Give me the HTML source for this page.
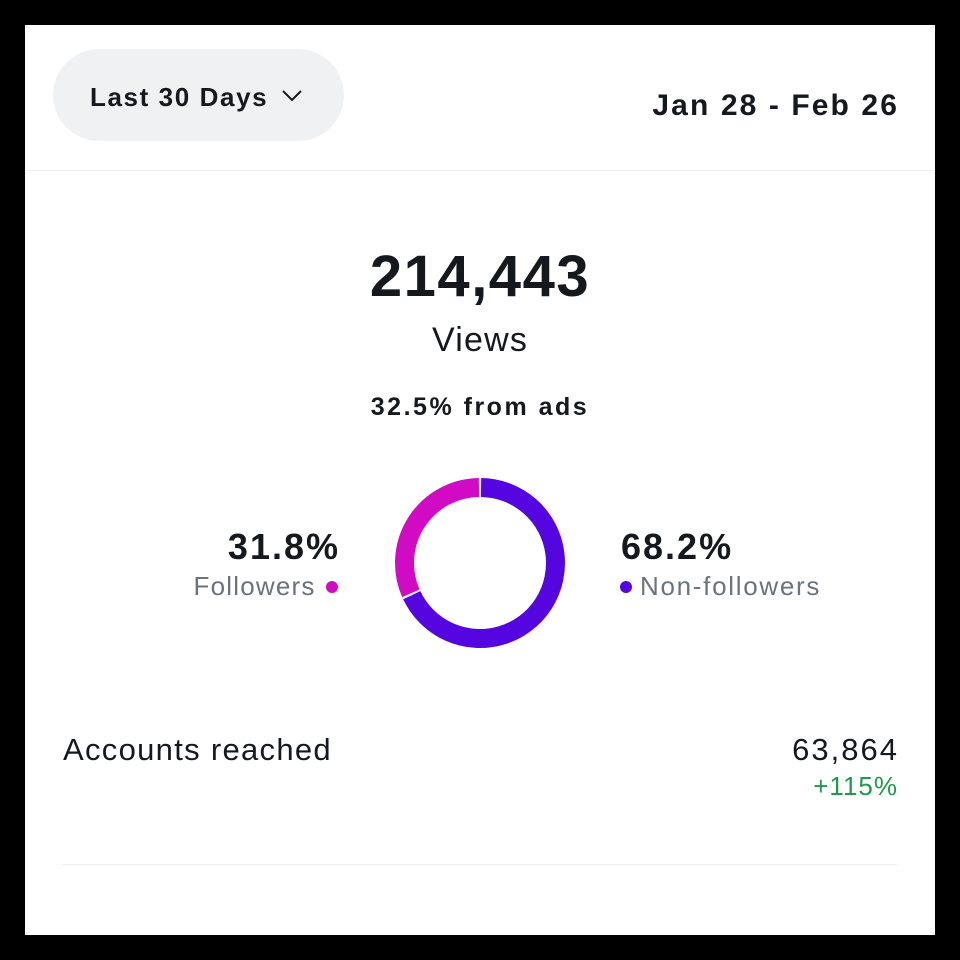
<!DOCTYPE html>
<html><head><meta charset="utf-8"><style>
html,body{margin:0;padding:0;background:#000;}
body{width:960px;height:960px;position:relative;overflow:hidden;font-family:"Liberation Sans",sans-serif;}
#card{position:absolute;left:25px;top:25px;width:910px;height:910px;background:#fff;}
.t{position:absolute;white-space:nowrap;line-height:1;}
</style></head><body>
<div id="card">
  <div style="position:absolute;left:28px;top:24px;width:291px;height:92px;border-radius:46px;background:#f0f1f3;">
    <div class="t" style="left:37px;top:35px;font-size:26px;font-weight:bold;color:#15181d;letter-spacing:1.6px;">Last 30 Days</div>
    <svg style="position:absolute;left:228px;top:40px" width="22" height="14"><polyline points="2,2 11,11 20,2" fill="none" stroke="#15181d" stroke-width="2"/></svg>
  </div>
  <div class="t" style="right:36px;top:66px;font-size:30px;font-weight:bold;color:#15181d;letter-spacing:2.1px;">Jan 28 - Feb 26</div>
  <div style="position:absolute;left:0;top:145px;width:910px;height:1px;background:#eeeff1;"></div>
  <div class="t" style="left:0;width:910px;text-align:center;top:223px;font-size:58px;font-weight:bold;color:#15181d;letter-spacing:1.5px;">214,443</div>
  <div class="t" style="left:0;width:910px;text-align:center;top:298px;font-size:34px;color:#15181d;letter-spacing:1.2px;">Views</div>
  <div class="t" style="left:0;width:910px;text-align:center;top:370px;font-size:25px;font-weight:bold;color:#15181d;letter-spacing:2.5px;">32.5% from ads</div>

  <div class="t" style="right:595px;top:504px;font-size:36px;font-weight:bold;color:#15181d;letter-spacing:2px;">31.8%</div>
  <div class="t" style="right:597px;top:548px;font-size:26px;color:#6b7280;letter-spacing:1.2px;">Followers <span style="display:inline-block;width:12px;height:12px;border-radius:6px;background:#d10ac4;margin-left:2px;vertical-align:2px"></span></div>
  <div class="t" style="left:596px;top:504px;font-size:36px;font-weight:bold;color:#15181d;letter-spacing:2px;">68.2%</div>
  <div class="t" style="left:595px;top:548px;font-size:26px;color:#6b7280;letter-spacing:1.7px;"><span style="display:inline-block;width:12px;height:12px;border-radius:6px;background:#5506e0;margin-right:8px;vertical-align:2px"></span>Non-followers</div>

  <svg id="donut" style="position:absolute;left:365px;top:448px" width="180" height="180"></svg>

  <div class="t" style="left:38px;top:709px;font-size:31px;color:#15181d;letter-spacing:1.3px;">Accounts reached</div>
  <div class="t" style="right:36px;top:709px;font-size:31px;color:#15181d;letter-spacing:2px;">63,864</div>
  <div class="t" style="right:37px;top:748px;font-size:26px;color:#1f9a4a;letter-spacing:1px;">+115%</div>
  <div style="position:absolute;left:37px;top:839px;width:835px;height:1px;background:#eeeff1;"></div>
</div>
<script>
const categories = ["Non-followers","Followers"];
const values = [68.2, 31.8];
const colors = ["#5506e0","#d10ac4"];
const svg = document.getElementById('donut');
const cx=90, cy=90, r=75.5, w=19, gapDeg=1.6;
const total = values.reduce((a,b)=>a+b,0);
function pt(a){const rad=(a-90)*Math.PI/180;return [cx+r*Math.cos(rad), cy+r*Math.sin(rad)];}
let start=0;
values.forEach((v,i)=>{
  const sweep=v/total*360;
  const a0=start+gapDeg/2, a1=start+sweep-gapDeg/2;
  const p0=pt(a0), p1=pt(a1);
  const large=(a1-a0)>180?1:0;
  const path=document.createElementNS('http://www.w3.org/2000/svg','path');
  path.setAttribute('d',`M${p0[0]},${p0[1]} A${r},${r} 0 ${large} 1 ${p1[0]},${p1[1]}`);
  path.setAttribute('fill','none');
  path.setAttribute('stroke',colors[i]);
  path.setAttribute('stroke-width',w);
  
  
  svg.appendChild(path);
  start+=sweep;
});
</script>
</body></html>
